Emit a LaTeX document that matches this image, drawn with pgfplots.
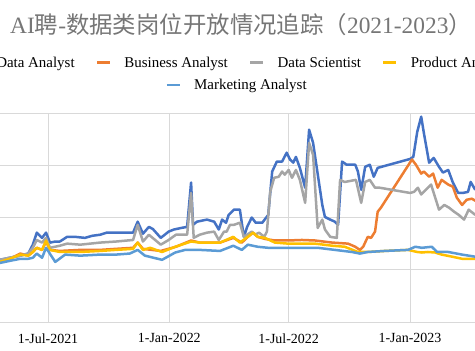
\documentclass[border=0pt]{standalone}
\usepackage{fontspec}
\setmainfont{Liberation Serif}
\newfontfamily\cjk{Noto Sans CJK SC}
\usepackage{pgfplots}
\pgfplotsset{compat=1.18}
\definecolor{cDA}{HTML}{4472C4}
\definecolor{cBA}{HTML}{ED7D31}
\definecolor{cDS}{HTML}{A5A5A5}
\definecolor{cPA}{HTML}{FFC000}
\definecolor{cMA}{HTML}{5B9BD5}
\definecolor{cgrid}{HTML}{D9D9D9}
\definecolor{ctitle}{HTML}{767676}
\begin{document}
\begin{tikzpicture}
\path[use as bounding box] (0,0) rectangle (475bp,351bp);
\clip (0,0) rectangle (475bp,351bp);
\pgfplotsset{
  common/.style={
    at={(0bp,29bp)}, anchor=south west,
    scale only axis, width=475bp, height=209bp,
    xmin=108.2, xmax=828.6, ymin=-100, ymax=300,
    clip=true,
  },
  series/.style={line width=2.5bp, line join=round},
}
\begin{axis}[
  common,
  axis line style={draw=none},
  major tick length=0pt,
  xtick={181,365,546,730},
  xticklabels={1-Jul-2021,1-Jan-2022,1-Jul-2022,1-Jan-2023},
  ytick={-100,100,200,300},
  yticklabels={},
  extra y ticks={0},
  extra y tick labels={},
  extra y tick style={grid style={black, line width=0.9bp}},
  grid=major,
  major grid style={cgrid, line width=0.8bp},
  xticklabel style={font=\fontsize{14}{16}\selectfont, text=black, yshift=-8bp},
  title={\fontsize{23.5}{25}\selectfont AI{\cjk 聘}-{\cjk 数据类岗位开放情况追踪（}2021-2023{\cjk ）}},
  title style={at={(0.5075,1.392)}, anchor=center, text=ctitle},
  legend columns=4,
  legend style={draw=none, fill=none, at={(0.5021,1.240)}, anchor=center,
    font=\fontsize{15}{17}\selectfont,
    /tikz/every odd column/.append style={column sep=11bp},
    /tikz/every even column/.append style={column sep=19bp}},
  legend image code/.code={\draw[#1, line width=2.8bp] (0bp,0bp) -- (13bp,0bp);},
]
\addplot[series, cDA] coordinates {
(108,19)(123,23)(139,27)(151,31)(158,48)(164,71)(172,61)(178,71)(184,52)(192,54)(199,54)(210,63)(222,63)(237,61)(248,65)(260,67)(270,71)(283,71)(298,71)(310,71)(317,92)(325,69)(334,82)(340,78)(352,61)(364,73)(372,77)(383,80)(392,82)(398,167)(401,86)(407,92)(422,96)(433,92)(440,77)(445,96)(451,90)(455,105)(463,115)(472,115)(478,63)(483,82)(490,100)(496,90)(506,90)(515,105)(521,188)(528,207)(536,207)(543,224)(548,211)(553,205)(557,216)(563,195)(571,157)(577,268)(583,243)(597,124)(601,101)(609,96)(616,92)(621,86)(627,207)(634,201)(647,201)(651,188)(656,153)(662,197)(669,201)(675,178)(681,195)(730,212)(735,216)(741,264)(747,293)(751,262)(759,205)(766,214)(774,197)(780,186)(788,191)(795,167)(803,147)(810,147)(818,149)(822,168)(829,153)
};
\addlegendentry{Data Analyst}
\addplot[series, cBA] coordinates {
(108,15)(123,21)(139,31)(151,27)(158,34)(164,42)(172,38)(178,54)(184,38)(199,36)(230,38)(260,38)(284,40)(310,42)(317,52)(325,40)(352,36)(375,44)(398,56)(411,52)(442,52)(462,61)(475,52)(484,63)(492,71)(499,63)(510,59)(525,56)(545,56)(566,57)(586,56)(612,52)(636,50)(647,44)(654,38)(659,44)(666,63)(671,61)(677,73)(681,111)(686,119)(733,211)(739,201)(747,184)(751,188)(759,178)(765,184)(772,157)(778,172)(788,163)(795,159)(801,138)(809,124)(816,134)(824,136)(829,132)
};
\addlegendentry{Business Analyst}
\addplot[series, cDS] coordinates {
(108,19)(123,23)(139,27)(151,31)(158,42)(164,57)(172,52)(178,61)(184,42)(199,46)(210,50)(230,48)(260,52)(284,54)(310,57)(317,86)(325,54)(334,67)(352,48)(364,57)(375,67)(392,67)(398,147)(402,61)(411,67)(422,71)(433,73)(440,57)(448,73)(452,73)(457,86)(463,86)(472,90)(478,63)(483,67)(490,73)(495,67)(501,71)(509,63)(513,73)(518,149)(524,176)(531,178)(536,188)(540,182)(546,191)(551,176)(557,191)(563,172)(571,128)(577,243)(583,220)(590,80)(597,96)(601,77)(609,63)(619,61)(624,172)(631,168)(648,172)(656,128)(662,168)(669,172)(677,157)(684,157)(730,147)(736,149)(742,157)(747,144)(754,153)(762,163)(766,147)(774,115)(782,124)(789,119)(797,111)(804,105)(812,96)(819,115)(829,105)
};
\addlegendentry{Data Scientist}
\addplot[series, cPA] coordinates {
(108,15)(123,21)(139,29)(151,27)(158,34)(164,42)(172,38)(178,56)(184,38)(199,34)(230,34)(260,36)(284,38)(310,40)(317,52)(325,38)(336,42)(354,34)(374,44)(398,54)(411,52)(442,52)(462,63)(472,52)(484,63)(492,71)(499,63)(510,61)(525,52)(545,50)(566,50)(586,50)(612,46)(631,44)(651,34)(666,34)(692,36)(727,38)(741,34)(748,33)(757,34)(768,33)(778,29)(794,25)(809,21)(829,21)
};
\addlegendentry{Product Analyst}
\end{axis}
\begin{axis}[
  common,
  hide axis,
  legend style={draw=none, fill=none, at={(0.4990,1.1340)}, anchor=center,
    font=\fontsize{15}{17}\selectfont,
    /tikz/every odd column/.append style={column sep=11bp}},
  legend image code/.code={\draw[#1, line width=2.8bp] (0bp,0bp) -- (13bp,0bp);},
]
\addplot[series, cMA] coordinates {
(108,13)(123,17)(139,21)(151,21)(158,23)(164,31)(172,23)(178,42)(192,15)(207,29)(230,27)(260,29)(284,29)(305,31)(317,38)(328,27)(354,19)(374,33)(389,38)(411,38)(442,36)(462,46)(475,38)(484,48)(499,44)(515,42)(540,42)(566,42)(590,42)(616,38)(642,34)(654,31)(666,34)(692,36)(727,38)(738,44)(748,42)(763,44)(771,34)(788,34)(809,29)(829,25)
};
\addlegendentry{Marketing Analyst}
\end{axis}
\end{tikzpicture}
\end{document}
